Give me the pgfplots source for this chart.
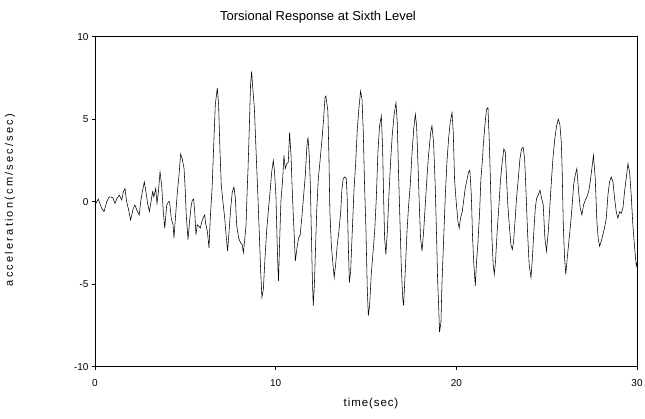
\documentclass[border=0pt]{standalone}
\usepackage{fontspec}
\setmainfont{Liberation Sans}
\usepackage{pgfplots}
\pgfplotsset{compat=1.18}
\begin{document}
\begin{tikzpicture}[x=1pt,y=1pt]
\useasboundingbox (-95,-52.3) rectangle (550,366.7);
\begin{axis}[
 at={(0,0)}, anchor=south west,
 width=542pt, height=330pt, scale only axis,
 xmin=0, xmax=30, ymin=-10, ymax=10,
 xtick={0,10,20,30}, ytick={-10,-5,0,5,10},
 xticklabels={0,10,20,30}, yticklabels={-10,-5,0,5,10},
 tick align=outside, major tick length=3pt,
 xtick pos=left, ytick pos=left,
 tick label style={font=\fontsize{10}{12}\selectfont},
 xticklabel style={yshift=-6pt},
 axis line style={line width=0.9pt},
 tick style={line width=0.7pt, black},
]
\addplot[black, line width=0.55pt] coordinates {
(0,-0.2)(0.18,0.16)(0.37,-0.4)(0.50,-0.6)(0.65,0)(0.79,0.3)(0.98,0.25)(1.11,-0.1)(1.20,0.16)(1.35,0.4)(1.48,0.1)(1.57,0.6)(1.66,0.8)(1.75,0)(1.84,-0.4)(1.97,-1.1)(2.12,-0.4)(2.21,-0.2)(2.31,-0.5)(2.45,-0.8)(2.53,0)(2.62,0.6)(2.73,1.2)(2.82,0.6)(2.91,-0.1)(3.01,-0.6)(3.10,0)(3.19,0.6)(3.26,0.3)(3.36,0.8)(3.43,-0.1)(3.51,0.6)(3.60,1.8)(3.69,1.0)(3.78,-0.6)(3.86,-1.6)(3.97,-0.2)(4.07,0)
(4.13,0)(4.22,-1.0)(4.32,-1.4)(4.37,-2.2)(4.45,-1.0)(4.56,0.6)(4.65,1.6)(4.74,2.9)(4.83,2.6)(4.93,2.0)(5.00,0.6)(5.05,-0.8)(5.15,-2.3)(5.24,-1.1)(5.33,-0.2)(5.39,0.1)(5.46,0.15)(5.52,-0.6)(5.59,-2.0)(5.66,-1.4)(5.76,-1.5)(5.83,-1.6)(5.89,-1.3)(5.98,-1.0)(6.07,-0.8)(6.12,-1.3)(6.22,-1.8)(6.31,-2.8)(6.38,-1.0)(6.48,0.8)(6.57,3.4)(6.66,5.9)(6.77,6.9)(6.84,5.9)(6.92,3.0)(6.99,1.0)(7.08,0)(7.18,-1.0)(7.27,-2.2)(7.34,-3.0)(7.42,-1.8)(7.51,-0.4)(7.60,0.6)(7.69,0.9)(7.77,0.2)(7.84,-1.4)(7.95,-2.2)(8.06,-2.5)(8.15,-2.6)(8.21,-3.1)(8.28,-2.4)(8.36,-1.4)(8.41,0.3)
(8.47,2.0)(8.54,4.4)(8.61,7.1)(8.67,7.9)(8.73,6.9)(8.82,5.7)(8.91,3.2)(9.00,0.8)(9.09,-1.8)(9.17,-4.2)(9.24,-5.8)(9.32,-5.3)(9.41,-3.4)(9.50,-1.8)(9.59,-0.6)(9.69,0.6)(9.78,1.8)(9.87,2.5)(9.94,1.8)(10.02,0.2)(10.07,-2.0)(10.13,-4.2)(10.16,-4.8)(10.22,-2.4)(10.29,0)(10.39,1.4)(10.46,2.8)(10.53,2.0)(10.61,2.3)(10.70,2.4)(10.77,4.2)(10.85,2.8)(10.92,0.6)(11.00,-1.4)(11.09,-3.6)(11.18,-2.8)(11.27,-2.2)(11.36,-2.0)(11.46,-0.8)(11.55,0.4)(11.64,1.6)(11.73,3.4)(11.79,3.9)(11.86,2.8)(11.92,1.0)(11.97,-1.6)(12.03,-4.6)(12.08,-6.3)(12.14,-5.1)(12.19,-3.4)(12.27,-0.6)(12.36,1.4)(12.45,2.4)(12.55,3.6)(12.64,4.8)(12.73,6.3)(12.78,6.4)
(12.89,5.5)(12.95,2.6)(13.00,-0.6)(13.08,-2.6)(13.17,-3.8)(13.24,-4.6)(13.32,-3.8)(13.41,-2.6)(13.50,-1.8)(13.60,-0.6)(13.67,0.8)(13.74,1.4)(13.82,1.5)(13.91,1.4)(13.96,0.2)(14.02,-2.6)(14.08,-4.9)(14.15,-4.2)(14.24,-1.8)(14.33,0.6)(14.43,2.4)(14.52,4.4)(14.61,5.7)(14.70,6.7)(14.78,6.2)(14.85,4.2)(14.92,1.0)(15.00,-1.8)(15.07,-5.3)(15.13,-6.9)(15.20,-6.3)(15.29,-4.4)(15.38,-3.2)(15.48,-1.8)(15.57,0.2)(15.66,3.0)(15.75,4.6)(15.85,5.2)(15.92,3.2)(15.98,0)(16.03,-2.2)(16.10,-3.2)(16.18,-1.8)(16.27,0.4)(16.36,2.4)(16.45,4.0)(16.56,5.3)(16.66,6.0)(16.73,4.8)(16.80,1.8)(16.88,-1.2)(16.95,-3.8)(17.03,-5.8)(17.08,-6.3)
(17.17,-4.3)(17.27,-1.8)(17.36,-0.2)(17.45,1.0)(17.54,2.8)(17.64,4.4)(17.73,5.3)(17.80,4.6)(17.88,2.2)(17.95,-0.2)(18.02,-2.2)(18.10,-3.0)(18.19,-1.8)(18.28,-0.2)(18.37,1.4)(18.46,2.8)(18.58,4.2)(18.65,4.6)(18.74,3.6)(18.83,1.0)(18.91,-2.2)(18.96,-4.6)(19.02,-6.3)(19.07,-7.9)(19.15,-7.3)(19.20,-5.1)(19.30,-2.2)(19.39,0.4)(19.48,2.4)(19.57,3.8)(19.66,4.8)(19.76,5.4)(19.83,4.2)(19.90,1.4)(19.99,0)(20.09,-1.2)(20.16,-1.6)(20.23,-1.0)(20.33,-0.6)(20.42,0.2)(20.49,0.8)(20.60,1.4)(20.68,1.8)(20.75,1.9)(20.83,0.4)(20.90,-2.2)(20.97,-3.8)(21.05,-5.1)(21.12,-3.6)(21.19,-2.6)(21.29,-0.6)(21.36,1.4)
(21.45,2.6)(21.49,3.4)(21.58,4.6)(21.67,5.6)(21.75,5.7)(21.82,3.8)(21.90,0.8)(21.97,-2.2)(22.04,-3.8)(22.10,-4.4)(22.17,-3.6)(22.26,-1.8)(22.36,-0.2)(22.45,1.4)(22.54,2.4)(22.63,3.2)(22.71,3.0)(22.78,1.4)(22.85,-0.2)(22.93,-1.4)(23.02,-2.6)(23.10,-2.9)(23.17,-2.4)(23.26,-1.0)(23.33,0.2)(23.43,1.4)(23.52,2.6)(23.61,3.2)(23.70,3.3)(23.78,2.6)(23.85,0.8)(23.94,-1.8)(24.03,-3.8)(24.13,-4.6)(24.20,-3.6)(24.29,-1.8)(24.37,-0.4)(24.44,0.2)(24.53,0.4)(24.63,0.7)(24.72,0.2)(24.81,-0.2)(24.90,-2.2)(24.99,-3.0)(25.09,-1.8)(25.18,-0.2)(25.27,1.4)(25.36,2.8)(25.45,3.8)(25.55,4.6)(25.64,5.0)(25.73,4.7)
(25.81,3.6)(25.86,1.8)(25.92,-1.4)(25.99,-3.4)(26.06,-4.4)(26.14,-3.4)(26.23,-2.4)(26.32,-1.4)(26.40,-0.4)(26.49,1.0)(26.58,1.6)(26.67,2.0)(26.77,0.6)(26.86,-0.4)(26.95,-0.8)(27.04,-0.2)(27.14,0.1)(27.23,0.3)(27.32,0.6)(27.41,1.2)(27.50,2.0)(27.59,2.8)(27.69,1.4)(27.78,-1.2)(27.85,-2.2)(27.93,-2.7)(28.02,-2.4)(28.11,-2.0)(28.20,-1.6)(28.30,-1.0)(28.39,0.4)(28.48,1.2)(28.57,1.5)(28.67,1.2)(28.76,0.2)(28.85,-0.6)(28.94,-1.0)(29.04,-0.6)(29.13,-0.7)(29.22,-0.4)(29.31,0.6)(29.40,1.4)(29.50,2.3)(29.59,1.8)(29.68,0.4)(29.77,-1.4)(29.87,-2.8)(29.96,-3.9)(30.0,-3.7)
};
\end{axis}
\node at (223,350) {\fontsize{13}{15}\selectfont Torsional Response at Sixth Level};
\node[rotate=90] at (-85,166.7) {\fontsize{11}{13}\selectfont\addfontfeatures{LetterSpace=20}acceleration(cm/sec/sec)};
\node at (276,-37.3) {\fontsize{11.5}{13}\selectfont\addfontfeatures{LetterSpace=8}time(sec)};
\end{tikzpicture}
\end{document}
